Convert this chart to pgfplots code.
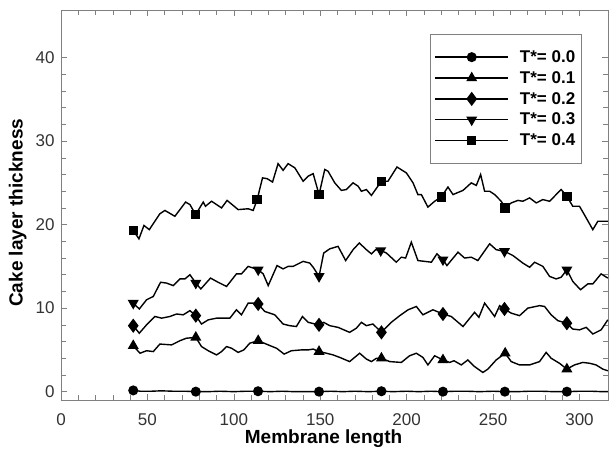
\documentclass[border=0pt]{standalone}
\usepackage{fontspec}
\setmainfont{Liberation Sans}
\usepackage{pgfplots}
\pgfplotsset{compat=1.18}

\begin{document}
\begin{tikzpicture}
\begin{axis}[
  scale only axis,
  width=547pt,height=390pt,
  xmin=0,xmax=316.5,ymin=-1,ymax=45.7,
  xtick={0,50,...,300},ytick={0,10,...,40},
  minor x tick num=4,minor y tick num=4,
  tick align=inside,
  major tick length=6pt,minor tick length=5pt,
  axis line style={gray},
  tick style={gray,line width=0.6pt},
  every tick label/.append style={font=\fontsize{17}{20}\selectfont,text=black!80},
  /pgf/number format/assume math mode=true,
  yticklabel style={xshift=-3pt},
  xticklabel style={yshift=-10pt},
  xlabel={\textbf{Membrane length}},
  ylabel={\textbf{Cake layer thickness}},
  label style={font=\fontsize{19}{22}\selectfont},
  xlabel style={at={(axis description cs:0.48,-0.1)},anchor=center},
  ylabel style={at={(axis description cs:-0.079,0.48)},anchor=center},
  legend style={at={(axis description cs:0.675,0.938)},anchor=north west,
    draw=gray,line width=0.6pt,font=\fontsize{17}{20}\selectfont\bfseries,
    row sep=3.5pt,inner xsep=4pt,inner ysep=14pt,cells={anchor=west},
    /tikz/every odd column/.append style={column sep=9pt}},
  legend image code/.code={
    \draw[line width=1.4pt,mark repeat=2,mark phase=2] plot coordinates {(0pt,0pt)(36.5pt,0pt)(73pt,0pt)};},
  every axis plot/.append style={black,line width=1.4pt},
]
\addlegendimage{mark=*,mark size=4.3pt}
\addlegendentry{T*= 0.0}
\addlegendimage{mark=triangle*,mark size=5pt}
\addlegendentry{T*= 0.1}
\addlegendimage{mark=diamond*,mark size=6pt}
\addlegendentry{T*= 0.2}
\addlegendimage{mark=triangle*,mark size=5pt,every mark/.append style={rotate=180}}
\addlegendentry{T*= 0.3}
\addlegendimage{mark=square*,mark size=4pt}
\addlegendentry{T*= 0.4}

% T* = 0.0
\addplot[no marks,forget plot] coordinates {
(41.8,0.15)(46,0.05)(52,0.05)(58,0.1)(65,0.05)(72,0.05)(78,0.0)(85,0.0)(92,0.05)(100,0.0)
(107,0.05)(114,0.05)(121,0.0)(128,0.05)(135,0.0)(142,0.0)(149.3,0.0)(156,0.05)(163,0.0)
(170,0.05)(178,0.0)(185.4,0.05)(192,0.0)(200,0.05)(207,0.0)(214,0.05)(221,0.0)(228,0.05)
(235,0.05)(242,0.0)(250,0.05)(256.8,0.0)(264,0.0)(271,0.05)(278,0.05)(285,0.0)(292.7,0.0)
(300,0.05)(307,0.05)(313,0.0)(316.4,0.0)};
\addplot[only marks,mark=*,mark size=4.3pt,forget plot] coordinates {
(41.8,0.15)(78,0.0)(114,0.05)(149.3,0.0)(185.4,0.05)(221,0.0)(256.8,0.0)(292.7,0.0)};

% T* = 0.1
\addplot[no marks,forget plot] coordinates {
(41.8,5.5)(45.7,4.6)(49.5,4.9)(53.4,4.8)(57.2,5.7)(64,5.6)(68.8,6.1)(72.6,6.4)(78,6.5)
(81.3,5.4)(85.2,4.9)(90,4.4)(92.9,4.8)(95.8,5.4)(98.7,5.2)(102.5,4.7)(105.8,5.0)(109.2,5.8)
(114.1,6.1)(119.9,5.6)(124.7,5.2)(129.1,4.5)(133.3,4.9)(139.1,5.0)(143,5.0)(145.9,5.1)
(149.3,4.8)(153.6,4.6)(157.4,4.4)(161.3,4.1)(167,3.6)(172.8,4.6)(176.7,3.9)(179.6,3.6)
(182.5,4.0)(185.4,4.0)(190.2,3.6)(196.9,3.5)(201.7,4.3)(205.6,4.6)(209.4,4.1)(212.3,3.2)
(216.2,4.3)(221,3.8)(224.9,3.5)(227.4,3.7)(231.6,3.2)(235.4,3.8)(239.3,3.0)(244.1,2.3)
(247,2.7)(251.8,3.8)(257,4.6)(260.5,3.6)(265.3,3.2)(271.1,3.2)(276.9,3.6)(280.7,4.7)
(283.6,4.0)(288.4,3.4)(292.7,2.7)(297.1,3.2)(301.9,3.5)(305.8,3.4)(309.6,3.2)(313.5,2.7)
(316.4,2.5)};
\addplot[only marks,mark=triangle*,mark size=5pt,forget plot] coordinates {
(41.8,5.5)(78,6.5)(114.1,6.1)(149.3,4.8)(185.4,4.0)(221,3.8)(257,4.6)(292.7,2.7)};

% T* = 0.2
\addplot[no marks,forget plot] coordinates {
(41.8,7.9)(45.3,7.0)(49.5,8.0)(54.3,9.0)(58.2,8.8)(63,9.0)(66.9,9.3)(70.7,9.2)(74.6,9.7)
(78,9.1)(81.3,8.1)(85.2,8.6)(90,8.8)(97.7,8.8)(101.5,9.8)(104.4,9.2)(108.3,10.6)(111.2,10.6)
(114.1,10.5)(117.9,9.6)(123.7,9.2)(128.5,8.1)(132.4,7.9)(136.2,7.8)(139.7,9.0)(143,8.3)
(149.3,8.0)(152,8.3)(155.5,7.9)(160.3,7.7)(167,7.1)(170.9,7.6)(173.8,8.3)(176.7,7.9)
(180.5,8.1)(185.4,7.1)(191.1,8.3)(196,9.1)(200.8,9.8)(205.6,10.2)(209.4,9.2)(215.2,9.8)
(221,9.3)(225.8,9.0)(232.6,7.8)(239.3,9.5)(241.8,8.9)(245.1,10.6)(248.4,9.7)(250.9,9.0)
(253.8,10.3)(256.6,9.9)(260.5,9.4)(265.3,9.1)(270.1,10.0)(276.9,10.3)(279.8,10.2)(283.6,9.2)
(287.5,8.5)(292.7,8.2)(296.1,7.5)(300,7.4)(303.9,7.7)(307.7,6.9)(312.5,7.4)(316.4,8.6)};
\addplot[only marks,mark=diamond*,mark size=6pt,forget plot] coordinates {
(41.8,7.9)(78,9.1)(114.1,10.5)(149.3,8.0)(185.4,7.1)(221,9.3)(256.6,9.9)(292.7,8.2)};

% T* = 0.3
\addplot[no marks,forget plot] coordinates {
(41.8,10.6)(45.3,9.9)(49.5,11.0)(53.4,11.4)(57.6,13.1)(61.1,13.0)(64.9,12.7)(68.8,13.5)
(71.7,13.5)(74.6,14.0)(78.0,13.0)(80.9,12.3)(86.5,13.6)(90.9,13.1)(95.8,12.6)(101.5,14.1)
(104.4,14.1)(108.3,15.0)(111.2,14.8)(114.1,14.6)(117,14.1)(119.9,12.7)(125,15.1)(128.5,14.7)
(131.4,15.0)(134.3,15.0)(140.1,15.6)(143.9,15.4)(145.9,14.9)(149.3,13.8)(152,16.6)(155.5,17.1)
(160.3,17.4)(164.7,15.7)(169,17.0)(172.6,17.8)(176.7,17.0)(179.6,16.5)(182.1,17.0)(185,16.9)
(188.3,16.6)(194,15.5)(196.9,16.1)(199.4,16.0)(202.7,17.9)(206.5,15.7)(214.3,15.5)(217.5,16.5)
(221,15.8)(223.3,15.1)(229.7,16.7)(233.5,16.0)(237.4,16.1)(241.2,15.7)(248,17.7)(251.8,17.0)
(256.6,16.8)(261.5,16.3)(267.2,15.4)(271.1,14.9)(274,15.5)(278.8,15.0)(282.7,13.8)(286.5,13.5)
(289.4,13.7)(292.7,14.6)(296.1,13.2)(300.6,12.2)(304.8,12.9)(307.7,12.9)(312.5,14.1)(316.4,13.6)};
\addplot[only marks,mark=triangle*,mark size=5pt,every mark/.append style={rotate=180},forget plot] coordinates {
(41.8,10.6)(78,13.0)(114.1,14.6)(149.3,13.8)(185,16.9)(221,15.8)(256.6,16.8)(292.7,14.6)};

% T* = 0.4
\addplot[no marks,forget plot] coordinates {
(41.8,19.3)(45.1,18.3)(48,19.9)(51.1,19.4)(57.2,21.3)(60.1,21.7)(65.9,21.0)(72.1,22.7)
(74.6,22.4)(77.9,21.2)(82.3,22.7)(83.6,22.2)(87.1,22.8)(92.9,22.0)(96.1,22.9)(102.5,21.8)
(108.3,21.9)(111.2,21.7)(113.5,23.0)(116.6,25.6)(119.3,25.5)(122.4,25.1)(125.6,27.3)(128.5,26.5)
(131.4,27.3)(135.3,26.8)(140.1,25.2)(143,25.8)(145.9,26.1)(149.3,23.6)(152.6,26.6)(154.5,26.4)
(158.4,25.0)(162.2,24.1)(165.1,24.2)(169,25.0)(171.9,24.6)(173.8,24.0)(176.7,24.2)(179.6,23.5)
(185.4,25.2)(189.2,25.2)(194.4,26.9)(199.8,26.2)(203.7,25.0)(206.5,23.6)(208.5,23.6)(212.3,22.1)
(216.2,22.8)(220.0,23.3)(223.9,24.5)(226.8,23.6)(232.6,24.1)(237.4,25.0)(240.3,24.7)(242.8,26.0)
(245.1,24.0)(248,24.0)(250.9,23.6)(254.7,22.8)(257.0,22.0)(260.5,22.6)(264.4,22.9)(267.2,22.8)
(271.1,23.2)(275,22.6)(278.8,23.0)(282.7,22.8)(286.5,23.6)(289.4,24.2)(292.7,23.4)(296.1,22.2)
(300,22.2)(303.9,20.8)(307.7,19.4)(310.6,20.4)(316.4,20.4)};
\addplot[only marks,mark=square*,mark size=4pt,forget plot] coordinates {
(41.8,19.3)(77.9,21.2)(113.5,23.0)(149.3,23.6)(185.4,25.2)(220.0,23.3)(257.0,22.0)(292.7,23.4)};
\end{axis}
\pgfresetboundingbox
\path[use as bounding box] (-61pt,-56pt) rectangle (548pt,400pt);
\end{tikzpicture}
\end{document}
